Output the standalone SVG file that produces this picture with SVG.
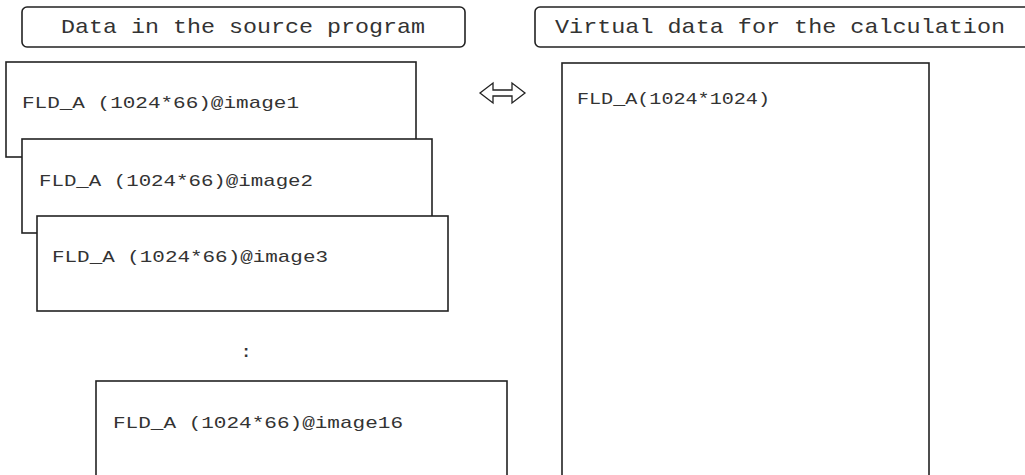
<svg xmlns="http://www.w3.org/2000/svg" width="1025" height="475" viewBox="0 0 1025 475">
<style>
.box{fill:#fff;stroke:#222;stroke-width:1.6}
.t{font-family:"Liberation Mono","Courier New",monospace;fill:#333}
.title{font-size:21px}
.lbl{font-size:17px}
</style>
<rect width="1025" height="475" fill="#fff"/>
<g id="title-source">
<rect class="box" x="22" y="7" width="443" height="40" rx="5"/>
<text class="t title" x="61" y="33" textLength="364" lengthAdjust="spacingAndGlyphs">Data in the source program</text>
</g>
<g id="title-virtual">
<rect class="box" x="535" y="7" width="500" height="40" rx="5"/>
<text class="t title" x="555" y="33" textLength="450" lengthAdjust="spacingAndGlyphs">Virtual data for the calculation</text>
</g>
<g id="image1">
<rect class="box" x="6" y="62" width="410" height="95"/>
<text class="t lbl" x="22" y="108" textLength="277" lengthAdjust="spacingAndGlyphs">FLD_A (1024*66)@image1</text>
</g>
<g id="image2">
<rect class="box" x="22" y="139" width="410" height="94"/>
<text class="t lbl" x="39" y="186" textLength="274" lengthAdjust="spacingAndGlyphs">FLD_A (1024*66)@image2</text>
</g>
<g id="image3">
<rect class="box" x="37" y="216" width="411" height="95"/>
<text class="t lbl" x="52" y="262" textLength="276" lengthAdjust="spacingAndGlyphs">FLD_A (1024*66)@image3</text>
</g>
<g id="ellipsis">
<text class="t lbl" x="246" y="357" text-anchor="middle" font-weight="bold">:</text>
</g>
<g id="image16">
<rect class="box" x="96" y="381" width="411" height="110"/>
<text class="t lbl" x="113" y="428" textLength="290" lengthAdjust="spacingAndGlyphs">FLD_A (1024*66)@image16</text>
</g>
<g id="virtual">
<rect class="box" x="562" y="63" width="367" height="430"/>
<text class="t lbl" x="577" y="104" font-size="18" textLength="193" lengthAdjust="spacingAndGlyphs">FLD_A(1024*1024)</text>
</g>
<g id="connectors">
<polygon points="480,93 493,83 493,90 512,90 512,83 525,93 512,103 512,96 493,96 493,103" fill="#fff" stroke="#222" stroke-width="1.3" stroke-linejoin="miter"/>
</g>
</svg>
